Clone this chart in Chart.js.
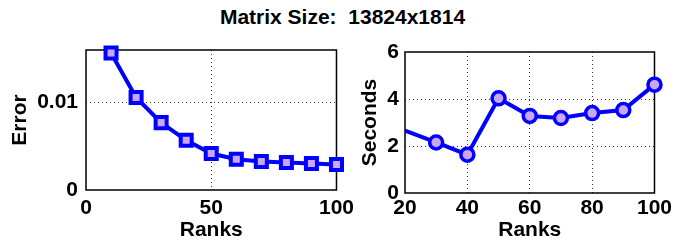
<!DOCTYPE html>
<html>
<head>
<meta charset="utf-8">
<script src="https://cdn.jsdelivr.net/npm/chart.js@4"></script>
<style>
  body { margin: 0; background: #fff; }
  #wrap { position: relative; width: 675px; height: 242px; overflow: hidden; }
  #title {
    position: absolute; left: 0; width: 685px; top: 5px;
    text-align: center; white-space: pre;
    font: bold 21px 'Liberation Sans', Arial, sans-serif; color: #000;
  }
  canvas { position: absolute; top: 0; }
  #err-chart { left: 0; }
  #time-chart { left: 340px; }
</style>
</head>
<body>
<div id="wrap">
  <div id="title">Matrix Size:  13824x1814</div>
  <canvas id="err-chart" width="360" height="242"></canvas>
  <canvas id="time-chart" width="335" height="242"></canvas>
</div>
<script>
// error vs rank
const errRanks = [10, 20, 30, 40, 50, 60, 70, 80, 90, 100]
const errValues = [0.01565, 0.01057, 0.0077, 0.00568, 0.00417, 0.00352, 0.00326, 0.00315, 0.00303, 0.00292]
const errXTicks = [0, 50, 100]
const errYTicks = [0, 0.01]

// seconds vs rank (first point lies left of the axis and gets clipped)
const timeRanks = [10, 30, 40, 50, 60, 70, 80, 90, 100]
const timeValues = [3.15, 2.15, 1.63, 4.03, 3.28, 3.19, 3.4, 3.53, 4.61]
const timeXTicks = [20, 40, 60, 80, 100]
const timeYTicks = [0, 2, 4, 6]

Chart.defaults.font.family = "'Liberation Sans', Arial, sans-serif"
Chart.defaults.font.size = 21
Chart.defaults.font.weight = 'bold'
Chart.defaults.color = '#000'

const BLUE = '#0000ff'
const LILAC = '#cba6f7'

// solid axes box, drawn under the data like matlab
const boxPlugin = {
  id: 'box',
  beforeDatasetsDraw (chart) {
    const { ctx, chartArea: a } = chart
    ctx.save()
    ctx.strokeStyle = '#000'
    ctx.lineWidth = 1.5
    ctx.strokeRect(a.left, a.top, a.right - a.left, a.bottom - a.top)
    ctx.restore()
  }
}

function makeScale (min, max, ticks, title, fit, tickPad, titlePad) {
  return {
    type: 'linear',
    min,
    max,
    afterBuildTicks: (scale) => { scale.ticks = ticks.map(v => ({ value: v })) },
    afterFit: fit,
    ticks: { padding: tickPad, callback: v => String(v) },
    grid: {
      drawTicks: false,
      lineWidth: 1,
      color: c => (c.tick && c.tick.value > min && c.tick.value < max) ? '#333' : 'rgba(0,0,0,0)'
    },
    border: { display: false, dash: [1, 3] },
    title: { display: true, text: title, padding: titlePad, font: { size: 21, weight: 'bold', lineHeight: 1 } }
  }
}

function makeChart (el, xs, ys, opts) {
  const data = xs.map((x, i) => ({ x, y: ys[i] }))
  // eslint-disable-next-line no-new, no-undef
  new Chart(document.getElementById(el), {
    type: 'line',
    data: {
      datasets: [{
        data,
        borderColor: BLUE,
        borderWidth: 4,
        pointStyle: opts.pointStyle,
        pointRadius: opts.pointRadius,
        pointBorderWidth: opts.pointBorderWidth,
        pointBorderColor: BLUE,
        pointBackgroundColor: LILAC,
        tension: 0,
        clip: opts.clip
      }]
    },
    options: {
      responsive: false,
      animation: false,
      devicePixelRatio: 1,
      layout: { padding: opts.padding },
      plugins: { legend: { display: false }, tooltip: { enabled: false } },
      scales: { x: opts.x, y: opts.y }
    },
    plugins: [boxPlugin]
  })
}

makeChart('err-chart', errRanks, errValues, {
  pointStyle: 'rect',
  pointRadius: 7.8,
  pointBorderWidth: 4,
  clip: false,
  padding: { left: 0, right: 22, top: 50, bottom: 0 },
  x: makeScale(0, 100, errXTicks, 'Ranks', s => { s.height = 52 }, 6, { top: 0, bottom: 1 }),
  y: makeScale(0, 0.016, errYTicks, 'Error', s => { s.width = 86 }, 8, { top: 10, bottom: 0 })
})

makeChart('time-chart', timeRanks, timeValues, {
  pointStyle: 'circle',
  pointRadius: 6.5,
  pointBorderWidth: 3.5,
  clip: { left: 0, right: false, top: false, bottom: false },
  padding: { left: 0, right: 18, top: 52, bottom: 0 },
  x: makeScale(20, 100, timeXTicks, 'Ranks', s => { s.height = 49 }, 3, { top: 0, bottom: 1 }),
  y: makeScale(0, 6, timeYTicks, 'Seconds', s => { s.width = 65 }, 6, { top: 19.5, bottom: 0 })
})
</script>
</body>
</html>
